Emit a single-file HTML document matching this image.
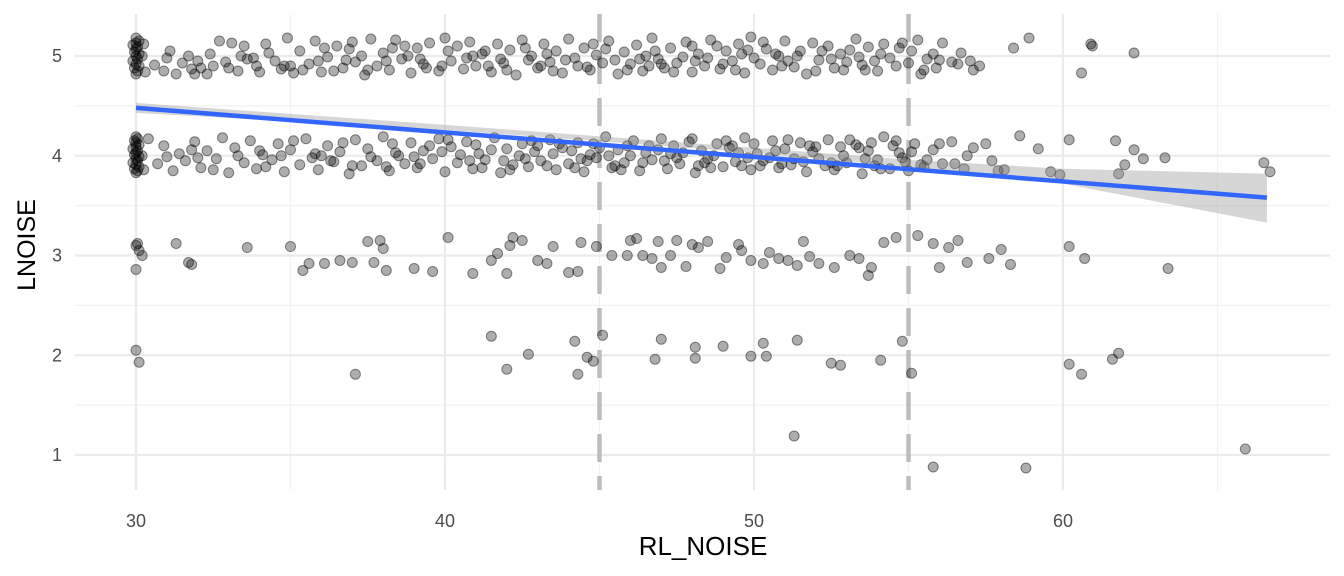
<!DOCTYPE html>
<html><head><meta charset="utf-8">
<style>
html,body{margin:0;padding:0;background:#fff;}
svg{display:block;font-family:"Liberation Sans",sans-serif;}
</style></head>
<body>
<svg id="chart" width="1344" height="576" viewBox="0 0 1344 576"></svg>
<script>
const xTicks=[30,40,50,60];
const yTicks=[1,2,3,4,5];
const vLines=[45,55];
const fitX=[30,66.6];
const fitY=[4.48,3.58];
const bandX=[30,40,50,55,60,66.6];
const bandLo=[4.43,4.26,4.03,3.89,3.72,3.33];
const bandHi=[4.53,4.31,4.08,3.96,3.87,3.82];
const row5="30.6,4.91 30.9,4.85 31.0,4.98 31.3,4.82 31.5,4.93 31.8,4.87 32.0,4.95 32.3,4.82 32.5,4.9 32.7,5.15 32.9,4.94 33.1,5.13 33.3,4.85 33.5,5.1 33.8,4.98 34.0,4.84 34.2,5.12 34.5,4.95 34.7,4.87 34.9,5.18 35.1,4.83 35.3,5.05 35.6,4.92 35.8,5.15 36.0,4.84 36.2,4.99 36.5,5.1 36.7,4.88 36.9,5.07 37.1,4.94 37.4,4.81 37.6,5.17 37.8,4.9 38.0,5.03 38.2,4.86 38.4,5.16 38.6,4.97 38.9,4.83 39.1,5.08 39.3,4.92 39.5,5.13 39.8,4.85 40.0,5.18 40.2,4.95 40.4,5.1 40.6,4.87 40.8,5.14 41.0,4.9 41.2,5.02 41.5,4.84 41.7,5.12 41.9,4.93 42.1,5.06 42.3,4.81 42.5,5.16 42.7,4.96 43.0,4.88 43.2,5.12 43.4,4.94 43.6,5.05 43.8,4.83 44.0,5.17 44.3,4.9 44.5,5.08 44.7,4.86 44.9,5.01 45.1,4.93 45.3,5.15 45.6,4.82 45.8,5.04 46.0,4.92 46.2,5.11 46.4,4.85 46.7,5.18 46.9,4.97 47.1,4.88 47.3,5.08 47.5,4.93 47.8,5.14 48.0,4.84 48.2,5.02 48.4,4.9 48.6,5.16 48.9,4.87 49.1,5.05 49.3,4.95 49.5,5.12 49.7,4.83 49.9,5.19 50.2,4.92 50.4,5.07 50.6,4.86 50.8,5.0 51.0,5.15 51.3,4.89 51.5,5.05 51.7,4.82 51.9,5.13 52.1,4.96 52.4,5.1 52.6,4.88 52.8,5.02 53.0,4.94 53.3,5.17 53.5,4.91 53.7,5.09 54.0,4.85 54.2,5.12 54.4,4.98 54.7,5.08 55.0,4.93 55.3,5.16 55.5,4.86 55.8,5.02 56.1,5.13 56.4,4.94 56.7,5.03 57.0,4.95 57.3,4.9 58.4,5.08 58.9,5.18 60.6,4.83 60.9,5.12 60.95,5.1 62.3,5.03 31.7,5.0 33.9,4.9 35.9,4.95 37.3,5.0 39.9,4.9 41.3,5.05 43.1,4.9 44.2,4.98 46.5,5.0 48.1,4.95 50.0,4.98 52.2,5.05 53.9,4.95 55.6,4.97 38.7,5.1 42.8,5.0 47.0,4.92 49.6,5.02 30.0,4.82 30.05,4.85 29.95,4.88 30.1,4.9 30.0,4.92 29.9,4.95 30.05,4.97 30.0,5.0 30.1,5.02 29.95,5.04 30.0,5.07 30.05,5.09 29.9,5.11 30.0,5.13 30.1,5.15 30.0,5.18 30.2,5.0 30.3,4.84 30.25,5.12 31.1,5.05 31.9,4.82 32.4,5.02 33.0,4.88 33.6,4.97 34.3,5.03 34.8,4.9 35.4,4.86 36.1,5.08 36.8,4.96 37.5,4.86 38.1,4.95 38.8,5.0 39.4,4.88 40.1,5.05 40.7,4.98 41.4,4.9 42.0,4.86 42.6,5.08 43.3,5.02 43.9,4.96 44.6,4.89 45.2,5.07 45.9,4.86 46.3,4.97 46.8,5.05 47.4,4.84 48.0,5.1 48.5,4.98 49.0,4.92 49.8,5.06 50.3,5.14 50.9,4.9 51.4,5.0 52.0,4.85 52.5,4.97 53.1,5.06 53.6,4.86 54.1,5.02 54.6,4.9 55.1,5.05 55.4,4.82 56.0,4.96 56.6,4.92 57.1,4.86 44.8,5.12 45.5,4.96 46.6,4.9 47.7,4.99 48.8,5.1 51.1,4.95 52.9,4.86 54.8,5.13 40.9,5.0 39.2,4.97 37.0,5.14 35.0,4.9 33.4,5.0 32.1,4.88 36.4,4.85 38.3,5.08 41.8,4.97 43.5,4.85 49.4,4.86 50.7,5.02 53.4,4.99 55.9,4.88";
const row4="30.4,4.17 30.7,3.92 30.9,4.1 31.2,3.85 31.4,4.02 31.6,3.95 31.9,4.14 32.1,3.88 32.3,4.05 32.6,3.97 32.8,4.18 33.0,3.83 33.2,4.08 33.5,3.93 33.7,4.15 33.9,3.87 34.1,4.01 34.4,3.96 34.6,4.12 34.8,3.84 35.0,4.06 35.3,3.91 35.5,4.17 35.7,3.98 35.9,3.86 36.2,4.1 36.4,3.94 36.6,4.04 36.9,3.82 37.1,4.16 37.3,3.9 37.5,4.07 37.8,3.95 38.0,4.19 38.2,3.85 38.4,4.03 38.7,3.92 38.9,4.13 39.1,3.88 39.3,4.05 39.6,3.97 39.8,4.17 40.0,3.84 40.2,4.09 40.4,3.93 40.7,4.14 40.9,3.87 41.1,4.02 41.3,3.96 41.6,4.18 41.8,3.83 42.0,4.07 42.2,3.91 42.5,4.12 42.7,3.89 42.9,4.04 43.1,3.95 43.4,4.16 43.6,3.86 43.8,4.08 44.0,3.92 44.3,4.13 44.5,3.84 44.7,4.01 44.9,3.98 45.2,4.19 45.4,3.88 45.6,4.06 45.8,3.93 46.1,4.15 46.3,3.85 46.5,4.03 46.7,3.96 47.0,4.17 47.2,3.87 47.4,4.1 47.6,3.92 47.9,4.14 48.1,3.83 48.3,4.05 48.5,3.97 48.8,4.12 49.0,3.89 49.2,4.08 49.4,3.94 49.7,4.18 49.9,3.86 50.1,4.02 50.3,3.95 50.6,4.15 50.8,3.88 51.0,4.07 51.2,3.91 51.5,4.13 51.7,3.84 51.9,4.04 52.1,3.97 52.4,4.16 52.6,3.86 52.8,4.09 53.0,3.93 53.3,4.11 53.5,3.82 53.7,4.05 54.0,3.96 54.2,4.19 54.4,3.87 54.7,4.03 54.9,3.94 55.2,4.12 55.5,3.89 55.8,4.06 56.1,3.92 56.4,4.14 56.8,3.87 57.1,4.08 57.5,4.12 57.9,3.85 58.1,3.86 58.6,4.2 59.2,4.07 59.6,3.84 59.9,3.81 60.2,4.16 61.7,4.15 61.8,3.82 62.0,3.91 62.3,4.06 62.6,3.97 63.3,3.98 66.5,3.93 66.7,3.84 38.5,4.0 39.0,3.99 40.5,4.01 41.0,4.11 41.9,3.95 42.4,4.0 43.0,4.1 43.3,3.9 44.1,4.05 44.6,3.95 45.0,4.08 45.5,3.9 46.0,4.0 46.6,4.1 47.1,3.95 47.7,4.03 48.2,3.9 48.7,4.0 49.3,4.1 49.8,3.98 50.2,3.9 50.7,4.05 51.3,3.97 51.8,4.1 52.3,3.9 52.9,4.0 53.4,4.08 53.9,3.9 54.5,4.1 55.0,3.85 36.0,4.0 34.0,4.05 32.0,3.98 37.0,3.9 39.5,4.1 55.6,3.96 56.5,3.92 30.0,3.83 30.05,3.85 29.95,3.87 30.1,3.89 30.0,3.91 29.9,3.93 30.05,3.95 30.0,3.97 30.1,3.99 29.95,4.01 30.0,4.03 30.05,4.05 29.9,4.07 30.0,4.09 30.1,4.11 30.0,4.13 29.95,4.15 30.05,4.17 30.0,4.19 30.2,4.0 30.25,3.86 31.0,3.99 31.8,4.06 32.5,3.86 33.3,4.0 34.2,3.89 35.1,4.15 35.8,4.02 36.7,4.13 37.6,3.99 38.3,4.12 39.2,3.92 40.1,4.16 40.8,3.95 41.5,4.06 42.1,3.86 42.8,4.15 43.5,4.02 44.2,3.88 44.8,4.12 45.3,4.0 45.9,4.1 46.4,3.93 46.9,4.06 47.5,3.98 48.0,4.17 48.6,3.88 49.1,4.15 49.6,3.9 50.0,4.12 50.5,3.98 51.1,4.16 51.6,3.94 52.0,4.09 52.5,3.93 53.1,4.16 53.6,3.97 54.1,3.87 54.6,4.15 55.1,4.04 55.4,3.91 56.0,4.12 56.9,4.0 57.7,3.95 41.2,3.88 42.6,3.97 43.7,4.12 44.4,3.97 45.7,3.86 47.3,4.02 48.4,3.93 49.5,4.03 50.9,3.92 52.7,3.9 53.8,4.13 54.8,3.98 39.9,4.04 38.1,3.89 36.3,3.95 34.7,4.0";
const row3="30.0,3.1 30.1,3.05 30.2,3.0 30.0,2.86 30.05,3.12 31.3,3.12 31.7,2.93 31.8,2.91 33.6,3.08 35.0,3.09 35.4,2.85 35.6,2.92 36.1,2.92 36.6,2.95 37.0,2.93 37.5,3.14 37.7,2.93 37.9,3.15 38.1,2.85 38.0,3.07 39.0,2.87 39.6,2.84 40.1,3.18 40.9,2.82 41.5,2.95 41.7,3.02 42.0,2.82 42.1,3.1 42.2,3.18 42.5,3.15 43.0,2.95 43.3,2.92 43.5,3.09 44.0,2.83 44.3,2.84 44.4,3.13 44.9,3.09 45.4,3.0 45.9,3.0 46.0,3.15 46.2,3.17 46.4,3.0 46.7,2.97 46.9,3.14 47.0,2.88 47.3,3.0 47.5,3.15 47.8,2.89 48.0,3.11 48.2,3.08 48.5,3.14 48.9,2.87 49.1,2.98 49.5,3.11 49.6,3.05 49.9,2.95 50.3,2.92 50.5,3.03 50.8,2.97 51.1,2.95 51.4,2.9 51.6,3.14 51.8,2.99 52.1,2.92 52.6,2.88 53.1,3.0 53.4,2.97 53.7,2.8 53.8,2.88 54.2,3.13 54.6,3.18 55.3,3.2 55.8,3.12 56.0,2.88 56.3,3.08 56.6,3.15 56.9,2.93 57.6,2.97 58.0,3.06 58.3,2.91 60.2,3.09 60.7,2.97 63.4,2.87";
const row2="30.0,2.05 30.1,1.93 37.1,1.81 41.5,2.19 42.0,1.86 42.7,2.01 44.2,2.14 44.3,1.81 44.6,1.98 44.8,1.94 45.1,2.2 46.8,1.96 47.0,2.16 48.1,2.08 48.1,1.97 49.0,2.09 49.9,1.99 50.3,2.12 50.4,1.99 51.4,2.15 52.5,1.92 52.8,1.9 54.1,1.95 54.8,2.14 55.1,1.82 60.2,1.91 60.6,1.81 61.6,1.96 61.8,2.02";
const row1="51.3,1.19 55.8,0.88 58.8,0.87 65.9,1.06";

const NS="http://www.w3.org/2000/svg";
const svg=document.getElementById('chart');
const L=75,R=1330,T=14,B=490;
const xs=v=>136+(v-30)*30.9;
const ys=v=>56+(5-v)*99.75;
function mk(tag,attrs,parent){const e=document.createElementNS(NS,tag);for(const k in attrs)e.setAttribute(k,attrs[k]);(parent||svg).appendChild(e);return e;}

const gMinor=mk('g',{});


[35,45,55,65].forEach(v=>mk('line',{x1:xs(v),x2:xs(v),y1:T,y2:B,stroke:'#f2f2f2','stroke-width':1.2},gMinor));
[1.5,2.5,3.5,4.5].forEach(v=>mk('line',{x1:L,x2:R,y1:ys(v),y2:ys(v),stroke:'#f2f2f2','stroke-width':1.2},gMinor));
const gMajor=mk('g',{});


xTicks.forEach(v=>mk('line',{x1:xs(v),x2:xs(v),y1:T,y2:B,stroke:'#ebebeb','stroke-width':2.2},gMajor));
yTicks.forEach(v=>mk('line',{x1:L,x2:R,y1:ys(v),y2:ys(v),stroke:'#ebebeb','stroke-width':2.2},gMajor));

vLines.forEach(v=>{
  const l=mk('line',{x1:xs(v),x2:xs(v),y1:T,y2:B,stroke:'#bdbdbd','stroke-width':4.5,'stroke-dasharray':'28 14'});
  
  
});

function parse(s){return s.trim().split(/\s+/).map(p=>p.split(',').map(Number));}
const gPts=mk('g',{});


[row5,row4,row3,row2,row1].forEach(r=>parse(r).forEach(([x,y])=>{
  const c=mk('circle',{cx:xs(x),cy:ys(y),r:5,fill:'rgba(0,0,0,0.32)',stroke:'rgba(0,0,0,0.45)','stroke-width':1},gPts);
  
  
}));

let d='M'+bandX.map((x,i)=>xs(x)+','+ys(bandHi[i])).join(' L');
d+=' L'+bandX.map((x,i)=>xs(x)+','+ys(bandLo[i])).reverse().join(' L')+' Z';
const band=mk('path',{d:d,fill:'rgba(153,153,153,0.4)'});


const fit=mk('line',{x1:xs(fitX[0]),y1:ys(fitY[0]),x2:xs(fitX[1]),y2:ys(fitY[1]),stroke:'#3366ff','stroke-width':4.5});



xTicks.forEach(v=>{
  const t=mk('text',{x:xs(v),y:527,'text-anchor':'middle','font-size':18,fill:'#4d4d4d'});
  t.textContent=v;
  
  
});
yTicks.forEach(v=>{
  const t=mk('text',{x:62,y:ys(v)+6,'text-anchor':'end','font-size':18,fill:'#4d4d4d'});
  t.textContent=v;
  
  
});
const xt=mk('text',{x:703,y:555,'text-anchor':'middle','font-size':26,fill:'#000'});
xt.textContent='RL_NOISE';


const yt=mk('text',{x:0,y:0,'text-anchor':'middle','font-size':25,fill:'#000',transform:'translate(35,245) rotate(-90)'});
yt.textContent='LNOISE';


</script>
</body></html>
